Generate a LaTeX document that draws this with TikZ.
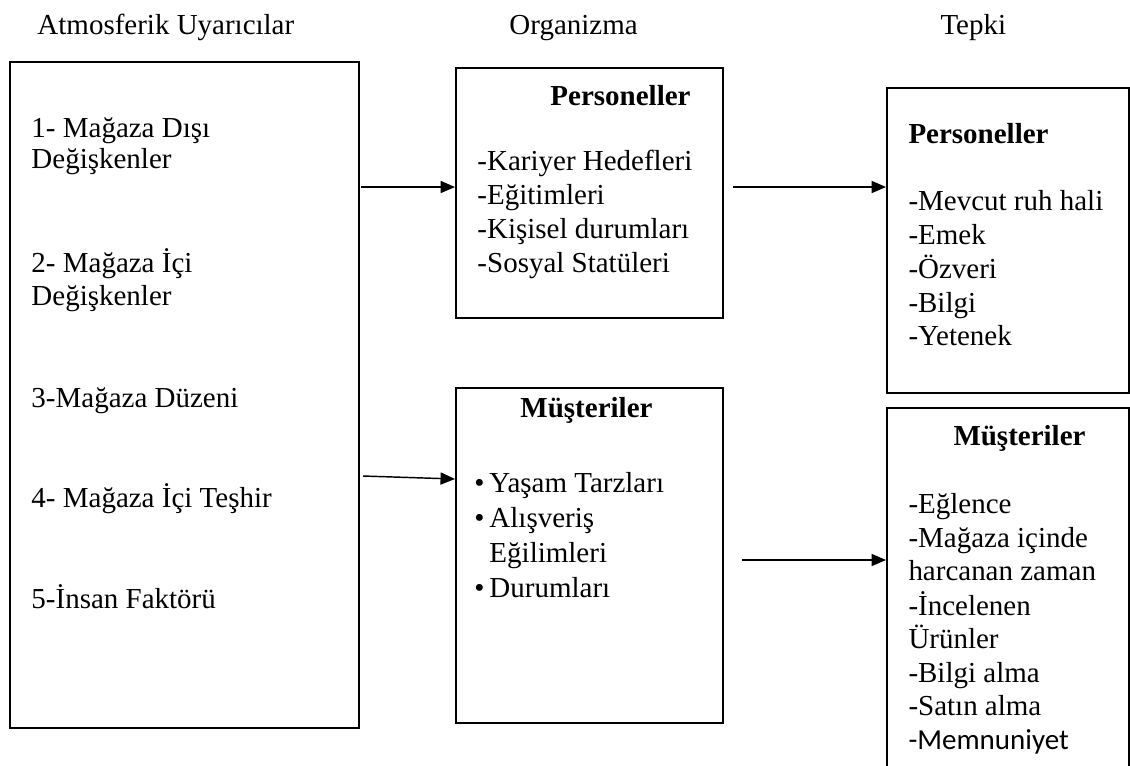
\documentclass[tikz,border=0pt]{standalone}
\usepackage{fontspec}
\setmainfont{Liberation Serif}
\newfontfamily\calibrifont{Carlito}
\usetikzlibrary{fit,arrows.meta}
\begin{document}
\begin{tikzpicture}[x=0.414pt,y=-0.414pt,
  box/.style={draw, line width=0.8pt, inner sep=0pt},
  txt/.style={anchor=base west, inner sep=0pt, font=\fontsize{12}{13.8}\selectfont},
  head/.style={txt, font=\fontsize{12}{13.8}\selectfont\bfseries},
  arr/.style={line width=0.6pt, -{Triangle[length=6pt,width=5pt]}}]
\useasboundingbox (0,0) rectangle (1130,765);

% column titles
\node[txt] (hA) at (37,34) {Atmosferik Uyarıcılar};
\node[txt] (hO) at (509,34) {Organizma};
\node[txt] (hT) at (940,34) {Tepki};

% boxes
\node[box, fit={(10,62) (359,728)}] (L) {};
\node[box, fit={(456,68) (723,318)}] (MT) {};
\node[box, fit={(456,388) (723,723)}] (MB) {};
\node[box, fit={(887,88) (1129,393)}] (RT) {};
\node[box, fit={(887,408) (1129,790)}] (RB) {};

% stimuli
\node[txt] (l1) at (31,137) {1- Mağaza Dışı};
\node[txt] (l1b) at (31,168) {Değişkenler};
\node[txt] (l2) at (31,272) {2- Mağaza İçi};
\node[txt] (l2b) at (31,305) {Değişkenler};
\node[txt] (l3) at (31,407) {3-Mağaza Düzeni};
\node[txt] (l4) at (31,507) {4- Mağaza İçi Teşhir};
\node[txt] (l5) at (31,608) {5-İnsan Faktörü};

% organism: staff
\node[head] (mtH) at (550,105) {Personeller};
\node[txt] (mt1) at (477,170) {-Kariyer Hedefleri};
\node[txt] (mt2) at (477,204) {-Eğitimleri};
\node[txt] (mt3) at (477,238) {-Kişisel durumları};
\node[txt] (mt4) at (477,272) {-Sosyal Statüleri};

% organism: customers
\node[head] (mbH) at (520,417) {Müşteriler};
\node[txt] (mbd1) at (474,492) {\textbullet};
\node[txt] (mb1) at (489,492) {Yaşam Tarzları};
\node[txt] (mbd2) at (474,527) {\textbullet};
\node[txt] (mb2) at (489,527) {Alışveriş};
\node[txt] (mb2b) at (489,562) {Eğilimleri};
\node[txt] (mbd3) at (474,597) {\textbullet};
\node[txt] (mb3) at (489,597) {Durumları};

% response: staff
\node[head] (rtH) at (908,143) {Personeller};
\node[txt] (rt1) at (908,210) {-Mevcut ruh hali};
\node[txt] (rt2) at (908,244) {-Emek};
\node[txt] (rt3) at (908,278) {-Özveri};
\node[txt] (rt4) at (908,312) {-Bilgi};
\node[txt] (rt5) at (908,345) {-Yetenek};

% response: customers
\node[head] (rbH) at (953,445) {Müşteriler};
\node[txt] (rb1) at (908,513) {-Eğlence};
\node[txt] (rb2) at (908,547) {-Mağaza içinde};
\node[txt] (rb3) at (908,580) {harcanan zaman};
\node[txt] (rb4) at (908,615) {-İncelenen};
\node[txt] (rb5) at (908,648) {Ürünler};
\node[txt] (rb6) at (908,682) {-Bilgi alma};
\node[txt] (rb7) at (908,715) {-Satın alma};
\node[txt, font=\fontsize{12}{13.8}\calibrifont] (rb8) at (908,749) {-Memnuniyet};

% connectors
\coordinate (a1s) at (361,187);
\coordinate (a2s) at (733,187);
\coordinate (a3s) at (363,476);
\coordinate (a4s) at (742,560);
\draw[arr] (a1s) -- (a1s -| MT.west);
\draw[arr] (a2s) -- (a2s -| RT.west);
\draw[arr] (a3s) -- (MB.west |- 0,479);
\draw[arr] (a4s) -- (a4s -| RB.west);
\end{tikzpicture}
\end{document}
